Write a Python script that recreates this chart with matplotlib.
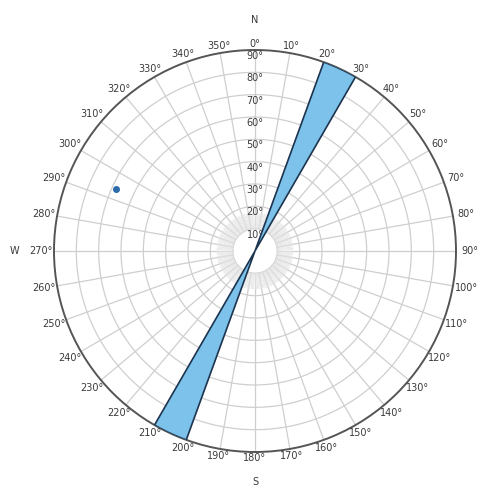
import numpy as np
import matplotlib
matplotlib.use("Agg")
import matplotlib.pyplot as plt

# rose petal (azimuth sector, degrees) and its opposite
petal_start = [20, 200]
petal_width = [10, 10]
petal_len = [90, 90]

# single pole plotted as a dot: azimuth, radius
dot_az = [294]
dot_r = [68]

az_ticks = list(range(0, 360, 10))
ring_vals = list(range(10, 100, 10))
compass = {"N": 0, "S": 180, "W": 270}
compass_r = {"N": 103.5, "S": 103.5, "W": 107.5}

grid_c = "#cfcfcf"
text_c = "#3a3a3a"

fig = plt.figure(figsize=(4.9, 4.88), dpi=100)
ax = fig.add_axes([54 / 490, 36 / 488, 402 / 490, 402 / 488], projection="polar")
ax.set_theta_zero_location("N")
ax.set_theta_direction(-1)
ax.set_ylim(0, 90)
ax.grid(False)
ax.set_xticks([])
ax.set_yticks([])
ax.spines["polar"].set_color("#555555")
ax.spines["polar"].set_linewidth(1.4)

# rings
tt = np.linspace(0, 2 * np.pi, 400)
for r in ring_vals[:-1]:
    ax.plot(tt, np.full_like(tt, r), color=grid_c, lw=0.9, zorder=1)

# spokes, plus the fine fringe round the empty centre
for a in az_ticks:
    ax.plot([np.radians(a)] * 2, [10, 90], color=grid_c, lw=0.9, zorder=1)
for a in range(0, 360, 2):
    ax.plot([np.radians(a)] * 2, [10, 17], color="#e2e2e2", lw=0.5, zorder=1)

# petals
theta = np.radians([s + w / 2 for s, w in zip(petal_start, petal_width)])
ax.bar(theta, petal_len, width=np.radians(petal_width), bottom=0,
       color="#7cc2ea", edgecolor="#1d3550", linewidth=1.2, zorder=3)

ax.plot(np.radians(dot_az), dot_r, "o", color="#2a6aa8", ms=4, zorder=4)

# azimuth labels outside the circle
for a in az_ticks:
    t = np.radians(a)
    off = 2.7 + 3.3 * abs(np.sin(t))
    ax.text(t, 90 + off, f"{a}°", ha="center", va="center", fontsize=7,
            color=text_c, clip_on=False)

# ring labels up the north line
for v in ring_vals:
    ax.text(0, v - 2.7, f"{v}°", ha="center", va="center", fontsize=7,
            color=text_c, zorder=5)

for lab, a in compass.items():
    ax.text(np.radians(a), compass_r[lab], lab, ha="center", va="center",
            fontsize=7, color=text_c, clip_on=False)

plt.savefig("out.png", dpi=100, facecolor="white")
